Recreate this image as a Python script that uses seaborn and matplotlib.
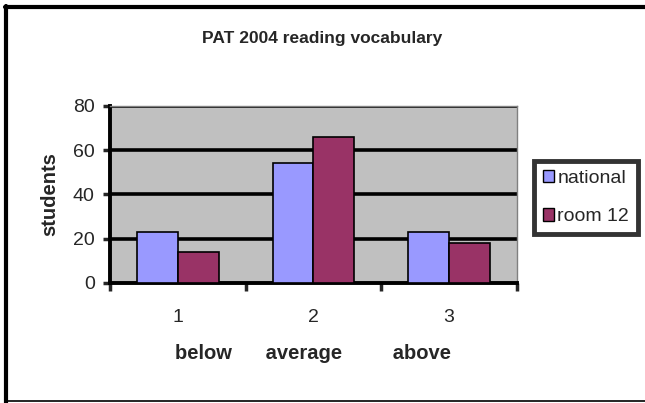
import matplotlib
matplotlib.use("Agg")
import matplotlib.pyplot as plt
import pandas as pd
import seaborn as sns
from matplotlib.lines import Line2D

categories = ["1", "2", "3"]
national = [23, 54, 23]
room12 = [14, 66, 18]
series_names = ["national", "room 12"]
yticks = [0, 20, 40, 60, 80]

COLOURS = {"national": "#9999FF", "room 12": "#993366"}

df = pd.DataFrame({
    "group": categories * 2,
    "series": [series_names[0]] * 3 + [series_names[1]] * 3,
    "students": national + room12,
})

sns.set_style("white")
plt.rcParams["font.family"] = ["Liberation Sans", "DejaVu Sans"]

fig = plt.figure(figsize=(6.45, 4.03), dpi=100)
ax = fig.add_axes([0.1705, 0.298, 0.631, 0.439])

sns.barplot(data=df, x="group", y="students", hue="series", palette=COLOURS,
            width=0.6, edgecolor="black", linewidth=1.2, saturation=1,
            ax=ax, zorder=3)

ax.set_facecolor("#C0C0C0")
ax.set_ylim(0, 80)
ax.set_yticks(yticks)
ax.set_xlim(-0.5, 2.5)
for y in yticks[1:]:
    ax.axhline(y, color="black", lw=2.6, zorder=2)

for side in ["left", "bottom"]:
    ax.spines[side].set_color("black")
    ax.spines[side].set_linewidth(2.8)
for side in ["top", "right"]:
    ax.spines[side].set_color("#808080")
    ax.spines[side].set_linewidth(1.0)

ax.tick_params(axis="y", direction="out", length=5, width=2.5, labelsize=14,
               pad=6, left=True)
ax.tick_params(axis="x", which="major", length=0, labelsize=14, pad=19)
ax.set_xticks([-0.5, 0.5, 1.5, 2.5], minor=True)
ax.tick_params(axis="x", which="minor", direction="out", length=6, width=2.5,
               bottom=True)

ax.set_xlabel("below      average         above", fontsize=14.5,
              fontweight="bold", labelpad=13)
ax.set_ylabel("students", fontsize=14.5, fontweight="bold", labelpad=10)

fig.text(0.5, 0.905, "PAT 2004 reading vocabulary", ha="center", va="center",
         fontsize=12.5, fontweight="bold")

leg = ax.legend(loc="center left", bbox_to_anchor=(0.828, 0.51),
                bbox_transform=fig.transFigure, frameon=True, fancybox=False,
                fontsize=14, handlelength=0.6, handleheight=0.6,
                handletextpad=0.15, borderpad=0.45, labelspacing=1.1,
                borderaxespad=0)
leg.get_frame().set_edgecolor("black")
leg.get_frame().set_linewidth(3.5)
for h in leg.legend_handles:
    h.set_edgecolor("black")
    h.set_linewidth(1.0)

# chart-area frame
fig.add_artist(Line2D([0.01, 0.01], [0.0, 0.985], color="black", lw=3,
                      transform=fig.transFigure))
fig.add_artist(Line2D([0.008, 1.0], [0.983, 0.983], color="black", lw=3,
                      transform=fig.transFigure))
fig.add_artist(Line2D([0.008, 1.0], [0.005, 0.005], color="black", lw=1.2,
                      transform=fig.transFigure))

fig.savefig("out.png", dpi=100)
